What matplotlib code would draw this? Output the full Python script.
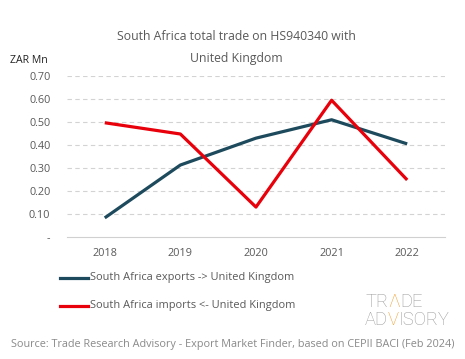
import matplotlib
matplotlib.use("Agg")
import matplotlib.pyplot as plt
from matplotlib.lines import Line2D

years = ["2018", "2019", "2020", "2021", "2022"]
exports = [0.083, 0.313, 0.43, 0.51, 0.405]
imports = [0.497, 0.448, 0.13, 0.595, 0.248]
yticks = [0, 0.1, 0.2, 0.3, 0.4, 0.5, 0.6, 0.7]
ytick_labels = ["-", "0.10", "0.20", "0.30", "0.40", "0.50", "0.60", "0.70"]
export_label = "South Africa exports -> United Kingdom"
import_label = "South Africa imports <- United Kingdom"

FONT = ["Open Sans", "DejaVu Sans"]
plt.rcParams['font.family'] = FONT
GRAY = "#595959"
C_EXP = "#1d4a5c"
C_IMP = "#e8000b"

fig = plt.figure(figsize=(4.65, 3.59), dpi=100)
ax = fig.add_axes([0.144, 0.34, 0.813, 0.448])
x = list(range(len(years)))
ax.plot(x, exports, color=C_EXP, lw=2.3, solid_capstyle='butt')
ax.plot(x, imports, color=C_IMP, lw=2.3, solid_capstyle='butt')
ax.set_xlim(-0.5, 4.5)
ax.set_ylim(0, 0.7)
ax.set_yticks(yticks)
ax.set_yticklabels(ytick_labels)
ax.set_xticks(x)
ax.set_xticklabels(years)
for s in ["top", "right", "left"]:
    ax.spines[s].set_visible(False)
ax.spines["bottom"].set_color("#d0d0d0")
ax.tick_params(axis='both', length=0, colors=GRAY, labelsize=7.8)
ax.tick_params(axis='x', pad=8)
ax.tick_params(axis='y', pad=12)
for t in yticks[1:]:
    ax.axhline(t, color="#d3d3d3", lw=0.8, ls=(0, (4, 3)), zorder=0)

fig.text(0.508, 0.899, "South Africa total trade on HS940340 with", ha='center', va='center',
         fontsize=8.8, color=GRAY)
fig.text(0.508, 0.838, "United Kingdom", ha='center', va='center', fontsize=8.8, color=GRAY)
fig.text(0.022, 0.832, "ZAR Mn", ha='left', va='center', fontsize=7.6, color="#222222")

# legend
fig.add_artist(Line2D([0.13, 0.19], [0.226, 0.226], color=C_EXP, lw=2.3, transform=fig.transFigure))
fig.add_artist(Line2D([0.13, 0.19], [0.148, 0.148], color=C_IMP, lw=2.3, transform=fig.transFigure))
fig.text(0.193, 0.228, export_label, ha='left', va='center', fontsize=7.9, color=GRAY)
fig.text(0.193, 0.150, import_label, ha='left', va='center', fontsize=7.9, color=GRAY)

# logo
LG = "#9a9a9a"
OR = "#f0a030"
lf = dict(fontsize=13.2, fontfamily=["Roboto", "DejaVu Sans"], fontweight='light', va='baseline')
y1, y2 = 0.145, 0.095
t = fig.text(0.785, y1, "TR", color=LG, **lf)
fig.canvas.draw()
r = fig.canvas.get_renderer()
def place(prev, s, c, y):
    bb = prev.get_window_extent(r)
    xx = bb.x1 / fig.bbox.width
    return fig.text(xx, y, s, color=c, **lf)
t2 = place(t, "Λ", OR, y1)
t3 = place(t2, "DE", LG, y1)
u = fig.text(0.785, y2, "AD", color=LG, **lf)
u2 = place(u, "V", OR, y2)
u3 = place(u2, "ISORY", LG, y2)

fig.text(0.5, 0.04, "Source: Trade Research Advisory - Export Market Finder, based on CEPII BACI (Feb 2024)",
         ha='center', va='center', fontsize=7.8, color="#8a8a8a")

fig.savefig("out.png", dpi=100)
